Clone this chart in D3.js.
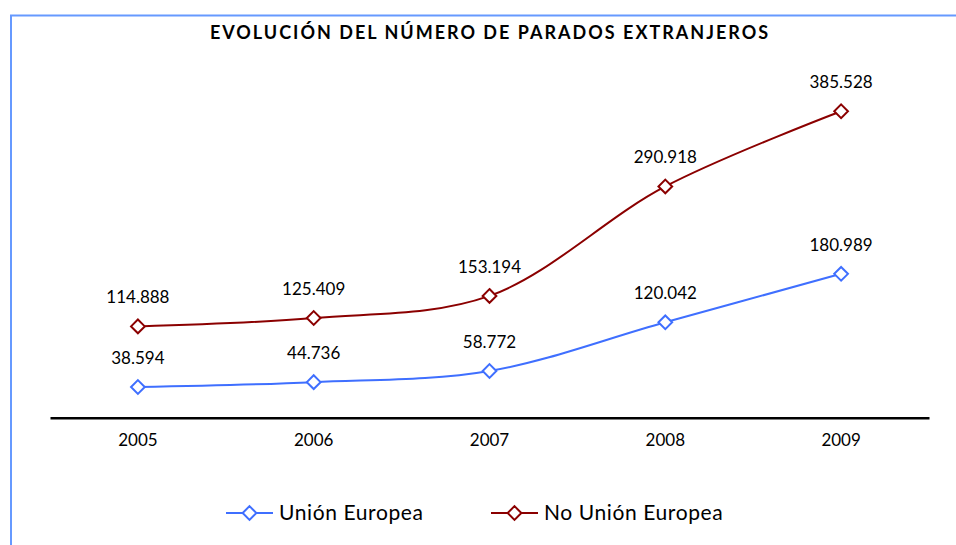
<!DOCTYPE html>
<html>
<head>
<meta charset="utf-8">
<script src="https://cdn.jsdelivr.net/npm/d3@7"></script>
<style>
  body { margin: 0; background: #fff; }
  svg { display: block; font-family: Lato, "Open Sans", sans-serif; }
</style>
</head>
<body>
<svg id="chart" width="956" height="545"></svg>
<script>
const years = ['2005', '2006', '2007', '2008', '2009'];
const ue = [38594, 44736, 58772, 120042, 180989];
const noUe = [114888, 125409, 153194, 290918, 385528];
const seriesNames = ['Unión Europea', 'No Unión Europea'];
const seriesColors = ['#3f6fff', '#8b0000'];

const svg = d3.select('#chart');

// frame (blue, only top and left visible)
svg.append('path')
  .attr('d', 'M11,545 L11,15.5 L956,15.5')
  .attr('fill', 'none')
  .attr('stroke', '#6699ff')
  .attr('stroke-width', 2);

svg.append('text')
  .attr('x', 490).attr('y', 39)
  .attr('text-anchor', 'middle')
  .attr('font-weight', 'bold')
  .attr('font-size', 18)
  .attr('letter-spacing', 2)
  .text('EVOLUCIÓN DEL NÚMERO DE PARADOS EXTRANJEROS');

const x = d3.scaleBand().domain(years).range([50, 929]);
const y = d3.scaleLinear().domain([0, 450000]).range([417.7, 60]);

// axis
const xAxis = svg.append('g')
  .attr('transform', 'translate(0,417.7)')
  .call(d3.axisBottom(x).tickSize(0).tickPadding(16));
xAxis.select('.domain').attr('stroke', '#000').attr('stroke-width', 2.5);
xAxis.selectAll('text').attr('font-size', 17).attr('fill', '#000')
  .attr('font-family', 'Lato, "Open Sans", sans-serif');

const cx = d => x(d) + x.bandwidth() / 2;
const line = d3.line().curve(d3.curveCatmullRom.alpha(0.5))
  .x((d, i) => cx(years[i])).y(d => y(d));

const diamond = d3.symbol().type(d3.symbolDiamond2).size(120);

[ue, noUe].forEach((vals, s) => {
  svg.append('path')
    .datum(vals)
    .attr('d', line)
    .attr('fill', 'none')
    .attr('stroke', seriesColors[s])
    .attr('stroke-width', 2);

  svg.selectAll(null).data(vals).enter().append('path')
    .attr('d', diamond)
    .attr('transform', (d, i) => 'translate(' + cx(years[i]) + ',' + y(d) + ')')
    .attr('fill', '#fff')
    .attr('stroke', seriesColors[s])
    .attr('stroke-width', 2);

  svg.selectAll(null).data(vals).enter().append('text')
    .attr('x', (d, i) => cx(years[i]))
    .attr('y', d => y(d) - 23)
    .attr('text-anchor', 'middle')
    .attr('font-size', 17)
    .text(d => d3.format(',')(d).replace(/,/g, '.'));
});

// legend
const legendX = [226, 491];
seriesNames.forEach((name, s) => {
  const g = svg.append('g').attr('transform', 'translate(' + legendX[s] + ',513)');
  g.append('line').attr('x1', 0).attr('x2', 47)
    .attr('stroke', seriesColors[s]).attr('stroke-width', 2);
  g.append('path').attr('d', diamond).attr('transform', 'translate(23.5,0)')
    .attr('fill', '#fff').attr('stroke', seriesColors[s]).attr('stroke-width', 2);
  g.append('text').attr('x', 53).attr('y', 7)
    .attr('font-size', 21)
    .attr('letter-spacing', 0.6)
    .text(name);
});
</script>
</body>
</html>
